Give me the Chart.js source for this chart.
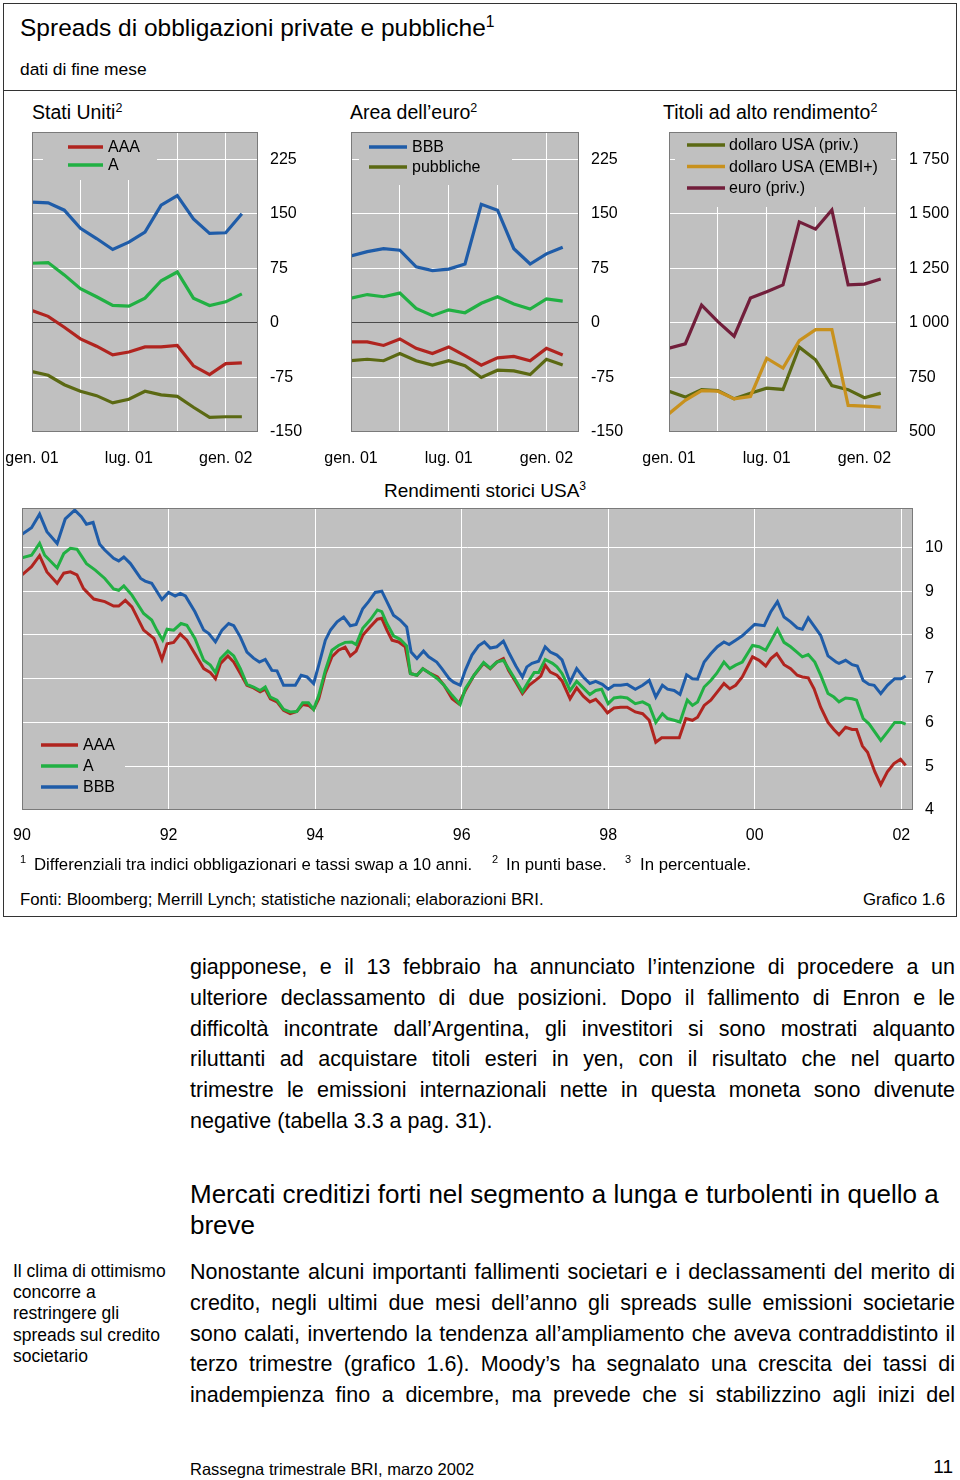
<!DOCTYPE html>
<html>
<head>
<meta charset="utf-8">
<script src="https://cdn.jsdelivr.net/npm/chart.js@4.4.1/dist/chart.umd.min.js"></script>
<style>
  body { margin: 0; width: 960px; height: 1480px; background: #fff; position: relative; overflow: hidden;
         font-family: "Liberation Sans", Arial, sans-serif; color: #000; }
  .t { position: absolute; white-space: nowrap; line-height: 1; }
  .s { font-size: 0.64em; position: relative; top: -0.55em; }
  .fs { font-size: 11px; }
  canvas { position: absolute; }
  #frame { position: absolute; left: 3px; top: 3px; width: 954px; height: 914px; border: 1px solid #333; box-sizing: border-box; }
  #sep { position: absolute; left: 3px; top: 90px; width: 954px; border-top: 1px solid #333; }
  .para { position: absolute; left: 190px; width: 765px; font-size: 21.5px; line-height: 30.8px; }
  .para div { text-align: justify; text-align-last: justify; }
  .para div.last { text-align-last: left; }
</style>
</head>
<body>
<div id="frame"></div>
<div id="sep"></div>

<div class="t" style="left:20px;top:16px;font-size:24.5px">Spreads di obbligazioni private e pubbliche<span class="s">1</span></div>
<div class="t" style="left:20px;top:61px;font-size:17.4px">dati di fine mese</div>

<div class="t" style="left:32px;top:103px;font-size:19.5px">Stati Uniti<span class="s">2</span></div>
<div class="t" style="left:350px;top:103px;font-size:19.5px">Area dell’euro<span class="s">2</span></div>
<div class="t" style="left:663px;top:103px;font-size:19.5px">Titoli ad alto rendimento<span class="s">2</span></div>

<canvas id="us" width="320" height="350" style="left:0;top:120px"></canvas>
<canvas id="eu" width="320" height="350" style="left:320px;top:120px"></canvas>
<canvas id="hy" width="316" height="350" style="left:640px;top:120px"></canvas>

<div class="t" style="left:384px;top:481px;font-size:19px">Rendimenti storici USA<span class="s">3</span></div>
<canvas id="yields" width="958" height="360" style="left:0;top:500px"></canvas>

<div class="t fs" style="left:20px;top:854px">1</div>
<div class="t" style="left:34px;top:857px;font-size:16.8px">Differenziali tra indici obbligazionari e tassi swap a 10 anni.</div>
<div class="t fs" style="left:492px;top:854px">2</div>
<div class="t" style="left:506px;top:857px;font-size:16.8px">In punti base.</div>
<div class="t fs" style="left:625px;top:854px">3</div>
<div class="t" style="left:640px;top:857px;font-size:16.8px">In percentuale.</div>
<div class="t" style="left:20px;top:892px;font-size:16.8px">Fonti: Bloomberg; Merrill Lynch; statistiche nazionali; elaborazioni BRI.</div>
<div class="t" style="right:15px;top:892px;font-size:16.8px">Grafico 1.6</div>

<div class="para" style="top:952px">
  <div>giapponese, e il 13 febbraio ha annunciato l’intenzione di procedere a un</div>
  <div>ulteriore declassamento di due posizioni. Dopo il fallimento di Enron e le</div>
  <div>difficoltà incontrate dall’Argentina, gli investitori si sono mostrati alquanto</div>
  <div>riluttanti ad acquistare titoli esteri in yen, con il risultato che nel quarto</div>
  <div>trimestre le emissioni internazionali nette in questa moneta sono divenute</div>
  <div class="last">negative (tabella 3.3 a pag. 31).</div>
</div>

<div class="t" style="left:190px;top:1179px;font-size:26px;line-height:31px">Mercati creditizi forti nel segmento a lunga e turbolenti in quello a<br>breve</div>

<div class="t" style="left:13px;top:1261px;font-size:17.5px;line-height:21.2px">Il clima di ottimismo<br>concorre a<br>restringere gli<br>spreads sul credito<br>societario</div>

<div class="para" style="top:1257px">
  <div>Nonostante alcuni importanti fallimenti societari e i declassamenti del merito di</div>
  <div>credito, negli ultimi due mesi dell’anno gli spreads sulle emissioni societarie</div>
  <div>sono calati, invertendo la tendenza all’ampliamento che aveva contraddistinto il</div>
  <div>terzo trimestre (grafico 1.6). Moody’s ha segnalato una crescita dei tassi di</div>
  <div>inadempienza fino a dicembre, ma prevede che si stabilizzino agli inizi del</div>
</div>

<div class="t" style="left:190px;top:1461px;font-size:16.5px">Rassegna trimestrale BRI, marzo 2002</div>
<div class="t" style="right:7px;top:1457px;font-size:19px">11</div>

<script>
// month-end spreads, Jan 2001 - Feb 2002 (basis points)
const spreadMonths = ["gen. 01", "feb. 01", "mar. 01", "apr. 01", "mag. 01", "giu. 01", "lug. 01",
  "ago. 01", "set. 01", "ott. 01", "nov. 01", "dic. 01", "gen. 02", "feb. 02"];
const spreadGridIdx = [0, 3, 6, 9, 12];
const bpTicks = [-150, -75, 0, 75, 150, 225];
const hyTicks = [500, 750, 1000, 1250, 1500, 1750];

const usAAA = [17, 9, -6, -22, -32, -44, -40, -33, -33, -31, -59, -71, -56, -55];
const usA = [82, 83, 66, 47, 36, 24, 23, 34, 58, 70, 34, 24, 29, 40];
const usBBB = [166, 165, 155, 130, 116, 101, 111, 125, 162, 175, 143, 123, 124, 150];
const usGov = [-67, -72, -85, -94, -100, -110, -105, -94, -99, -101, -116, -130, -129, -129];

const euAAA = [-26, -26, -31, -22, -35, -42, -33, -45, -58, -48, -46, -52, -35, -44];
const euA = [34, 39, 36, 41, 20, 10, 18, 14, 27, 36, 26, 19, 33, 30];
const euBBB = [92, 98, 102, 100, 77, 72, 74, 81, 163, 155, 102, 81, 95, 104];
const euGov = [-52, -50, -52, -42, -52, -58, -52, -59, -75, -65, -66, -71, -50, -58];

const hyUsdPriv = [687, 660, 694, 690, 652, 678, 701, 695, 889, 831, 713, 694, 657, 678];
const hyUsdEmbi = [584, 645, 690, 687, 652, 663, 838, 793, 919, 969, 969, 622, 619, 614];
const hyEurPriv = [884, 904, 1082, 1006, 939, 1114, 1143, 1174, 1463, 1430, 1518, 1174, 1178, 1201];

// US corporate yields (per cent), read at the turning points of the lines
const yieldYearTicks = [1990, 1992, 1994, 1996, 1998, 2000, 2002];
const yieldYearLabels = ["90", "92", "94", "96", "98", "00", "02"];
const yieldTicks = [4, 5, 6, 7, 8, 9, 10];

const bbbYears = [1990.00, 1990.13, 1990.24, 1990.34, 1990.48, 1990.59, 1990.72, 1990.81, 1990.88, 1990.97,
  1991.06, 1991.13, 1991.25, 1991.32, 1991.39, 1991.48, 1991.62, 1991.68, 1991.77, 1991.91,
  1992.00, 1992.09, 1992.16, 1992.23, 1992.36, 1992.48, 1992.55, 1992.64, 1992.73, 1992.82,
  1992.89, 1992.98, 1993.07, 1993.16, 1993.24, 1993.32, 1993.41, 1993.48, 1993.57, 1993.73,
  1993.81, 1993.89, 1993.98, 1994.05, 1994.14, 1994.21, 1994.30, 1994.39, 1994.48, 1994.56,
  1994.65, 1994.73, 1994.82, 1994.91, 1994.98, 1995.07, 1995.16, 1995.25, 1995.31, 1995.39,
  1995.48, 1995.55, 1995.66, 1995.73, 1995.83, 1995.89, 1995.98, 1996.05, 1996.14, 1996.23,
  1996.31, 1996.39, 1996.48, 1996.57, 1996.64, 1996.74, 1996.83, 1996.89, 1996.96, 1997.05,
  1997.14, 1997.21, 1997.30, 1997.37, 1997.48, 1997.57, 1997.66, 1997.75, 1997.83, 1997.92,
  1998.00, 1998.08, 1998.17, 1998.26, 1998.37, 1998.47, 1998.56, 1998.65, 1998.74, 1998.81,
  1998.90, 1998.98, 1999.07, 1999.15, 1999.22, 1999.31, 1999.40, 1999.49, 1999.58, 1999.65,
  1999.74, 1999.83, 2000.00, 2000.13, 2000.22, 2000.31, 2000.40, 2000.49, 2000.58, 2000.65,
  2000.73, 2000.82, 2000.90, 2001.00, 2001.11, 2001.15, 2001.24, 2001.33, 2001.40, 2001.48,
  2001.56, 2001.63, 2001.72, 2001.81, 2001.91, 2002.00, 2002.06];
const bbbYield = [10.30, 10.45, 10.76, 10.36, 10.09, 10.65, 10.85, 10.70, 10.53, 10.57,
  10.07, 9.94, 9.75, 9.69, 9.78, 9.63, 9.29, 9.23, 9.18, 8.81,
  8.97, 8.89, 8.95, 8.89, 8.53, 8.11, 8.03, 7.84, 8.11, 8.26,
  8.21, 7.95, 7.61, 7.47, 7.38, 7.44, 7.19, 7.18, 6.85, 6.85,
  7.08, 7.04, 6.89, 7.31, 7.88, 8.11, 8.30, 8.41, 8.21, 8.24,
  8.60, 8.76, 8.97, 9.00, 8.76, 8.45, 8.34, 8.18, 7.61, 7.46,
  7.63, 7.50, 7.38, 7.23, 7.00, 6.92, 6.85, 7.19, 7.54, 7.75,
  7.84, 7.70, 7.73, 7.86, 7.61, 7.29, 7.04, 7.27, 7.35, 7.40,
  7.73, 7.61, 7.54, 7.43, 6.92, 7.23, 7.04, 6.89, 6.94, 6.87,
  6.76, 6.85, 6.85, 6.87, 6.76, 6.85, 6.96, 6.58, 6.85, 6.76,
  6.73, 6.64, 7.09, 7.00, 6.99, 7.38, 7.57, 7.73, 7.84, 7.78,
  7.88, 7.98, 8.24, 8.21, 8.53, 8.76, 8.41, 8.30, 8.16, 8.13,
  8.39, 8.18, 7.99, 7.52, 7.38, 7.35, 7.42, 7.32, 7.29, 6.96,
  6.87, 6.85, 6.66, 6.85, 7.00, 7.00, 7.06];

const aYears = [1990.00, 1990.13, 1990.24, 1990.31, 1990.48, 1990.57, 1990.66, 1990.75, 1990.88, 1991.00,
  1991.13, 1991.25, 1991.32, 1991.39, 1991.50, 1991.66, 1991.77, 1991.84, 1991.92, 1991.98,
  1992.07, 1992.17, 1992.25, 1992.36, 1992.48, 1992.57, 1992.64, 1992.71, 1992.81, 1992.89,
  1992.98, 1993.07, 1993.16, 1993.25, 1993.32, 1993.39, 1993.48, 1993.57, 1993.66, 1993.75,
  1993.83, 1993.91, 1993.98, 1994.05, 1994.14, 1994.23, 1994.32, 1994.41, 1994.50, 1994.56,
  1994.65, 1994.75, 1994.85, 1994.91, 1994.98, 1995.07, 1995.16, 1995.25, 1995.30, 1995.39,
  1995.47, 1995.57, 1995.67, 1995.76, 1995.87, 1995.98, 1996.05, 1996.17, 1996.30, 1996.39,
  1996.48, 1996.57, 1996.64, 1996.74, 1996.83, 1996.92, 1996.99, 1997.05, 1997.14, 1997.24,
  1997.30, 1997.37, 1997.48, 1997.57, 1997.66, 1997.75, 1997.83, 1997.91, 1998.00, 1998.08,
  1998.17, 1998.26, 1998.37, 1998.47, 1998.56, 1998.65, 1998.74, 1998.81, 1998.90, 1998.98,
  1999.08, 1999.15, 1999.22, 1999.31, 1999.40, 1999.48, 1999.58, 1999.66, 1999.74, 1999.83,
  1999.97, 2000.06, 2000.15, 2000.31, 2000.40, 2000.49, 2000.58, 2000.65, 2000.73, 2000.82,
  2000.90, 2001.00, 2001.08, 2001.15, 2001.24, 2001.33, 2001.39, 2001.48, 2001.56, 2001.72,
  2001.81, 2001.91, 2002.00, 2002.06];
const aYield = [9.76, 9.82, 10.09, 9.82, 9.53, 9.86, 9.98, 9.96, 9.63, 9.48,
  9.29, 9.05, 9.02, 9.12, 8.91, 8.49, 8.34, 8.11, 7.88, 8.13,
  8.11, 8.26, 8.22, 7.92, 7.42, 7.31, 7.14, 7.46, 7.63, 7.52,
  7.23, 6.87, 6.81, 6.73, 6.81, 6.58, 6.51, 6.30, 6.24, 6.25,
  6.45, 6.45, 6.30, 6.62, 7.19, 7.65, 7.76, 7.83, 7.84, 7.78,
  8.15, 8.34, 8.57, 8.53, 8.26, 7.98, 7.90, 7.75, 7.12, 7.08,
  7.23, 7.12, 7.00, 6.85, 6.62, 6.41, 6.77, 7.08, 7.37, 7.24,
  7.38, 7.42, 7.23, 6.96, 6.70, 6.96, 7.14, 7.14, 7.44, 7.35,
  7.27, 7.12, 6.73, 6.94, 6.79, 6.64, 6.73, 6.76, 6.43, 6.56,
  6.58, 6.56, 6.43, 6.47, 6.39, 6.00, 6.20, 6.09, 6.05, 6.01,
  6.51, 6.39, 6.47, 6.81, 6.96, 7.12, 7.38, 7.23, 7.31, 7.38,
  7.76, 7.73, 7.65, 8.13, 7.83, 7.73, 7.60, 7.50, 7.55, 7.38,
  7.08, 6.66, 6.58, 6.47, 6.56, 6.54, 6.51, 6.09, 5.97, 5.59,
  5.78, 6.00, 6.00, 5.96];

const aaaYears = [1990.00, 1990.13, 1990.24, 1990.34, 1990.48, 1990.57, 1990.66, 1990.75, 1990.84, 1990.98,
  1991.13, 1991.25, 1991.32, 1991.41, 1991.50, 1991.66, 1991.80, 1991.84, 1991.91, 1991.98,
  1992.07, 1992.16, 1992.25, 1992.36, 1992.48, 1992.57, 1992.64, 1992.71, 1992.81, 1992.89,
  1992.98, 1993.07, 1993.16, 1993.25, 1993.32, 1993.39, 1993.48, 1993.57, 1993.66, 1993.75,
  1993.83, 1993.91, 1993.98, 1994.05, 1994.14, 1994.23, 1994.32, 1994.41, 1994.48, 1994.56,
  1994.65, 1994.75, 1994.85, 1994.91, 1994.98, 1995.05, 1995.14, 1995.23, 1995.30, 1995.39,
  1995.47, 1995.57, 1995.67, 1995.76, 1995.87, 1995.96, 1996.05, 1996.17, 1996.30, 1996.39,
  1996.48, 1996.57, 1996.64, 1996.74, 1996.83, 1996.92, 1996.99, 1997.08, 1997.14, 1997.21,
  1997.30, 1997.37, 1997.48, 1997.57, 1997.66, 1997.75, 1997.83, 1997.91, 1997.99, 1998.08,
  1998.17, 1998.26, 1998.37, 1998.47, 1998.56, 1998.65, 1998.73, 1998.97, 1999.06, 1999.15,
  1999.22, 1999.31, 1999.40, 1999.49, 1999.58, 1999.66, 1999.74, 1999.83, 1999.97, 2000.06,
  2000.15, 2000.22, 2000.30, 2000.40, 2000.49, 2000.58, 2000.65, 2000.73, 2000.81, 2000.90,
  2001.00, 2001.08, 2001.15, 2001.24, 2001.33, 2001.39, 2001.47, 2001.54, 2001.64, 2001.72,
  2001.81, 2001.90, 2001.99, 2002.06];
const aaaYield = [9.37, 9.56, 9.81, 9.44, 9.18, 9.41, 9.44, 9.37, 9.06, 8.82,
  8.76, 8.66, 8.66, 8.79, 8.64, 8.11, 7.92, 7.76, 7.44, 7.80,
  7.83, 8.02, 7.88, 7.57, 7.23, 7.14, 7.00, 7.35, 7.52, 7.38,
  7.12, 6.85, 6.79, 6.70, 6.76, 6.54, 6.47, 6.28, 6.20, 6.25,
  6.41, 6.39, 6.30, 6.54, 7.12, 7.50, 7.65, 7.72, 7.52, 7.63,
  7.99, 8.18, 8.36, 8.38, 8.11, 7.88, 7.84, 7.73, 7.12, 7.08,
  7.23, 7.12, 7.04, 6.85, 6.54, 6.43, 6.73, 7.08, 7.35, 7.23,
  7.38, 7.46, 7.19, 6.92, 6.66, 6.85, 6.94, 7.06, 7.31, 7.15,
  7.08, 6.95, 6.54, 6.79, 6.60, 6.47, 6.53, 6.39, 6.22, 6.33,
  6.35, 6.35, 6.24, 6.20, 6.05, 5.55, 5.65, 5.65, 6.09, 6.05,
  6.12, 6.39, 6.51, 6.70, 6.89, 6.77, 6.85, 7.04, 7.50, 7.42,
  7.29, 7.46, 7.57, 7.32, 7.23, 7.08, 7.04, 7.02, 6.77, 6.35,
  6.00, 5.84, 5.72, 5.89, 5.84, 5.84, 5.46, 5.32, 4.87, 4.58,
  4.87, 5.06, 5.16, 5.02];

const RED = "#b0241f", GREEN = "#21b043", BLUE = "#1f5ca8",
      OLIVE = "#5b6913", ORANGE = "#c8911d", MAROON = "#721e3b";

Chart.defaults.font.family = '"Liberation Sans", Arial, sans-serif';
Chart.defaults.font.size = 16;
Chart.defaults.color = "#000";

// grey plot area, legend box inside the plot, thin frame
const framePlugin = {
  id: "frame",
  beforeDraw(chart) {
    const a = chart.chartArea, c = chart.ctx;
    c.save();
    c.fillStyle = "#c0c0c0";
    c.fillRect(a.left, a.top, a.right - a.left, a.bottom - a.top);
    c.restore();
  },
  beforeDatasetsDraw(chart, args, o) {
    const a = chart.chartArea, c = chart.ctx, L = o.legend;
    c.save();
    c.fillStyle = "#c0c0c0";
    c.fillRect(a.left + L.x, a.top + L.y, L.w, L.h);
    c.font = '16px "Liberation Sans", Arial, sans-serif';
    c.textBaseline = "middle";
    L.items.forEach((idx, k) => {
      const ds = chart.data.datasets[idx];
      const y = a.top + L.y + L.row0 + k * L.gap;
      c.strokeStyle = ds.borderColor;
      c.lineWidth = 3.5;
      c.beginPath();
      c.moveTo(a.left + L.line0, y);
      c.lineTo(a.left + L.line1, y);
      c.stroke();
      c.fillStyle = "#000";
      c.fillText(ds.label, a.left + L.text, y + 1);
    });
    c.restore();
  },
  afterDraw(chart) {
    const a = chart.chartArea, c = chart.ctx;
    c.save();
    c.strokeStyle = "#7a7a7a";
    c.lineWidth = 1;
    c.strokeRect(Math.round(a.left) + 0.5, Math.round(a.top) + 0.5,
      Math.round(a.right - a.left) - 1, Math.round(a.bottom - a.top) - 1);
    c.restore();
  }
};

function monthly(label, values, color) {
  return { label, data: values.map((v, i) => ({ x: i, y: v })), borderColor: color,
    borderWidth: 3.2, pointRadius: 0, tension: 0, fill: false };
}

function dated(label, years, values, color) {
  return { label, data: years.map((x, i) => ({ x, y: values[i] })), borderColor: color,
    borderWidth: 3, pointRadius: 0, tension: 0, fill: false };
}

function makeChart(id, datasets, p) {
  return new Chart(document.getElementById(id), {
    type: "line",
    data: { datasets },
    plugins: [framePlugin],
    options: {
      responsive: false,
      animation: false,
      devicePixelRatio: 1,
      layout: { padding: { left: p.left, top: p.top, right: 0, bottom: 0 } },
      plugins: { legend: { display: false }, tooltip: { enabled: false }, frame: { legend: p.legend } },
      scales: {
        x: {
          type: "linear", min: p.xMin, max: p.xMax,
          afterBuildTicks: s => { s.ticks = p.xTicks.map(v => ({ value: v })); },
          afterFit: s => { s.height = p.xH; s.paddingLeft = 0; s.paddingRight = 0; },
          grid: { color: "#ffffff", lineWidth: 1, drawTicks: false },
          border: { display: false },
          ticks: { padding: p.xPad, maxRotation: 0, autoSkip: false, callback: p.xLabel }
        },
        y: {
          position: "right", min: p.yMin, max: p.yMax,
          afterBuildTicks: s => { s.ticks = p.yTicks.map(v => ({ value: v })); },
          afterFit: s => { s.width = p.yW; s.paddingTop = 0; s.paddingBottom = 0; },
          grid: { color: c => (p.zeroLine && c.tick && c.tick.value === 0) ? "#4a4a4a" : "#ffffff",
                  lineWidth: 1, drawTicks: false },
          border: { display: false },
          ticks: { padding: 12, autoSkip: false, callback: p.yLabel }
        }
      }
    }
  });
}

const monthLabel = v => (v % 6 === 0 ? spreadMonths[v] : "");
const spaced = v => String(v).replace(/\B(?=(\d{3})+(?!\d))/g, " ");

const panelBase = { top: 12, xH: 38, xPad: 17, xMin: 0, xMax: 14, xTicks: spreadGridIdx, xLabel: monthLabel };

makeChart("us", [
  monthly("AAA", usAAA, RED),
  monthly("A", usA, GREEN),
  monthly("BBB", usBBB, BLUE),
  monthly("pubbliche", usGov, OLIVE)
], Object.assign({}, panelBase, {
  left: 32, yW: 62, yMin: -150, yMax: 262.5, yTicks: bpTicks, yLabel: v => String(v), zeroLine: true,
  legend: { x: 11, y: 0, w: 114, h: 48, line0: 36, line1: 71, text: 76, row0: 15, gap: 18, items: [0, 1] }
}));

makeChart("eu", [
  monthly("AAA", euAAA, RED),
  monthly("A", euA, GREEN),
  monthly("BBB", euBBB, BLUE),
  monthly("pubbliche", euGov, OLIVE)
], Object.assign({}, panelBase, {
  left: 31, yW: 61, yMin: -150, yMax: 262.5, yTicks: bpTicks, yLabel: v => String(v), zeroLine: true,
  legend: { x: 8, y: 0, w: 153, h: 53, line0: 18, line1: 56, text: 61, row0: 15, gap: 20, items: [2, 3] }
}));

makeChart("hy", [
  monthly("dollaro USA (EMBI+)", hyUsdEmbi, ORANGE),
  monthly("dollaro USA (priv.)", hyUsdPriv, OLIVE),
  monthly("euro (priv.)", hyEurPriv, MAROON)
], Object.assign({}, panelBase, {
  left: 29, yW: 59, yMin: 500, yMax: 1875, yTicks: hyTicks, yLabel: spaced, zeroLine: false,
  legend: { x: 6, y: 0, w: 216, h: 75, line0: 18, line1: 56, text: 60, row0: 13, gap: 21.5, items: [1, 0, 2] }
}));

makeChart("yields", [
  dated("BBB", bbbYears, bbbYield, BLUE),
  dated("A", aYears, aYield, GREEN),
  dated("AAA", aaaYears, aaaYield, RED)
], {
  left: 22, top: 8, xH: 50, xPad: 16, xMin: 1990, xMax: 2002.16, xTicks: yieldYearTicks,
  xLabel: v => yieldYearLabels[yieldYearTicks.indexOf(v)],
  yW: 45, yMin: 4, yMax: 10.9, yTicks: yieldTicks, yLabel: v => String(v), zeroLine: false,
  legend: { x: 0, y: 220, w: 103, h: 80, line0: 19, line1: 56, text: 61, row0: 17, gap: 21, items: [2, 1, 0] }
});
</script>
</body>
</html>
